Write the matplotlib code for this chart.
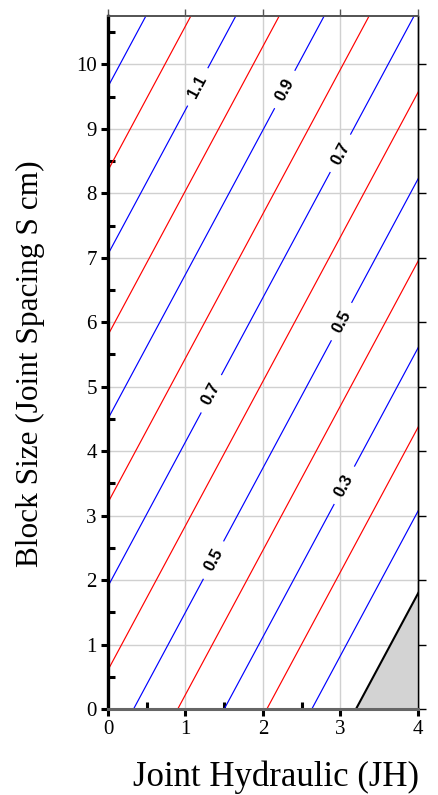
import numpy as np
import matplotlib
matplotlib.use("Agg")
import matplotlib.pyplot as plt

# ---- data ----
levels = [1.3, 1.2, 1.1, 1.0, 0.9, 0.8, 0.7, 0.6, 0.5, 0.4, 0.3, 0.2, 0.1, 0.0]
# x where each contour line meets y = 0 (lines are straight and parallel)
x_at_y0 = [-4.31, -3.73, -3.15, -2.59, -2.01, -1.43, -0.85, -0.27,
           0.33, 0.90, 1.50, 2.05, 2.63, 3.20]
slope = 2.24  # dy/dx of the contour lines
label_levels = [1.1, 0.9, 0.7, 0.5, 0.3, 0.7, 0.5]
label_y = [9.65, 9.61, 8.62, 6.01, 3.47, 4.89, 2.31]
x_ticks = [0, 1, 2, 3, 4]
y_ticks = [0, 1, 2, 3, 4, 5, 6, 7, 8, 9, 10]
x_label = "Joint Hydraulic (JH)"
y_label = "Block Size (Joint Spacing S cm)"

W, H = 439, 795
fig = plt.figure(figsize=(W / 100, H / 100), dpi=100)
ax = fig.add_axes([108 / W, 1 - 709 / H, (418 - 108) / W, (709 - 16) / H])
xmin, xmax, ymin, ymax = 0, 4, 0, 10.75
ax.set_xlim(xmin, xmax)
ax.set_ylim(ymin, ymax)

# grid
ax.set_xticks(x_ticks)
ax.set_yticks(y_ticks)
ax.grid(True, color="#d0d0d0", linewidth=1.0, zorder=0)

gap = 0.29
def line_color(lv):
    if abs(lv) < 1e-9:
        return "black"
    return "#0000ff" if int(round(lv * 10)) % 2 == 1 else "#ff0000"

# which lines get labels, and where
lab_map = {}
for lv, ly in zip(label_levels, label_y):
    lab_map.setdefault(lv, []).append(ly)

for lv, x0 in zip(levels, x_at_y0):
    c = line_color(lv)
    lw = 1.5 if c == "black" else 0.85
    cuts = sorted(lab_map.get(lv, []))
    y_start = ymin
    segs = []
    for ly in cuts:
        segs.append((y_start, ly - gap))
        y_start = ly + gap
    segs.append((y_start, ymax))
    for a, b in segs:
        ys = np.array([a, b])
        xs = x0 + ys / slope
        ax.plot(xs, ys, color=c, lw=lw, zorder=3, solid_capstyle="butt")
    if c == "black":
        y_end = (xmax - x0) * slope
        ys = np.array([0, y_end])
        xs = x0 + ys / slope
        ax.fill_betweenx(ys, xs, xmax, color="#d3d3d3", zorder=2, lw=0)

# contour labels
p1 = ax.transData.transform((0, 0))
p2 = ax.transData.transform((1, slope))
ang = np.degrees(np.arctan2(p2[1] - p1[1], p2[0] - p1[0]))
x_by_level = dict(zip(levels, x_at_y0))
for lv, ly in zip(label_levels, label_y):
    lx = x_by_level[lv] + ly / slope
    ax.text(lx, ly, f"{lv:.1f}", rotation=ang, rotation_mode="anchor",
            ha="center", va="center", fontsize=12, fontweight="bold",
            family="Liberation Sans", zorder=4)

# spines
ax.spines["left"].set_linewidth(2.4)
ax.spines["left"].set_color("black")
ax.spines["bottom"].set_linewidth(2.2)
ax.spines["bottom"].set_color("#666666")
ax.spines["top"].set_linewidth(1.3)
ax.spines["top"].set_color("#555555")
ax.spines["right"].set_linewidth(1.0)
ax.spines["right"].set_color("black")
for s in ax.spines.values():
    s.set_zorder(5)

# main ticks
ax.set_xticks(np.arange(0.5, 4, 1.0), minor=True)
ax.set_yticks(np.arange(0.5, 10.6, 1.0), minor=True)
ax.tick_params(axis="both", which="major", direction="out", length=5,
               width=2.2, color="black", labelsize=15, pad=3,
               top=False, right=False)
ax.tick_params(axis="both", which="minor", direction="in", length=5,
               width=2.2, color="black", top=False, right=False)
for lab in ax.get_xticklabels() + ax.get_yticklabels():
    lab.set_family("Liberation Serif")

# right and top ticks (thin, outward)
secy = ax.secondary_yaxis("right")
secy.set_yticks(y_ticks)
secy.set_yticklabels([])
secy.tick_params(direction="out", length=6, width=1.0, color="black")
secy.spines["right"].set_linewidth(1.0)
secx = ax.secondary_xaxis("top")
secx.set_xticks(x_ticks)
secx.set_xticklabels([])
secx.tick_params(direction="out", length=5, width=1.0, color="#555555")
secx.spines["top"].set_linewidth(1.3)
secx.spines["top"].set_color("#555555")

fig.text(30 / W, 1 - 364 / H, y_label, rotation=90, ha="center", va="center",
         fontsize=22.5, family="Liberation Serif")
fig.text(276 / W, 1 - 777 / H, x_label, ha="center", va="center",
         fontsize=25, family="Liberation Serif")

fig.savefig("out.png", dpi=100)
